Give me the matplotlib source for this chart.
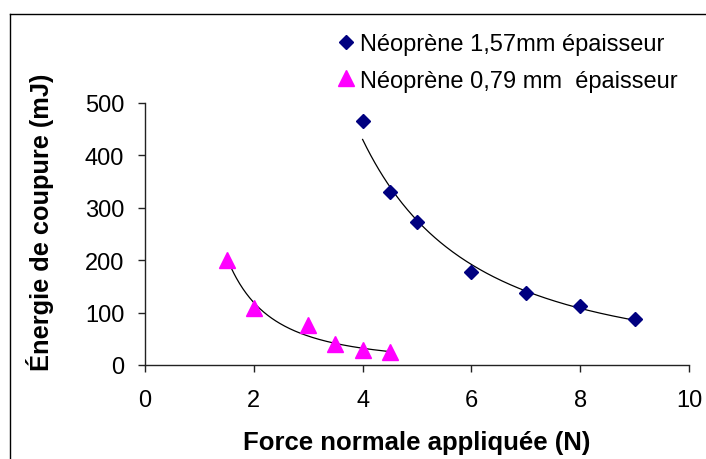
import numpy as np
import matplotlib
matplotlib.use("Agg")
import matplotlib.pyplot as plt
from matplotlib.lines import Line2D

plt.rcParams['font.family'] = ['Liberation Sans', 'DejaVu Sans']

# Data
x_157 = [4, 4.5, 5, 6, 7, 8, 9]
y_157 = [465, 330, 272, 178, 137, 113, 88]
x_079 = [1.5, 2, 3, 3.5, 4, 4.5]
y_079 = [200, 108, 76, 40, 29, 24]
label_157 = "Néoprène 1,57mm épaisseur"
label_079 = "Néoprène 0,79 mm  épaisseur"
xticks = [0, 2, 4, 6, 8, 10]
yticks = [0, 100, 200, 300, 400, 500]

W, H = 706, 460
fig = plt.figure(figsize=(W / 100, H / 100), dpi=100)
ax = fig.add_axes([145 / W, 1 - 366 / H, (689 - 145) / W, (366 - 104) / H])

navy = '#000080'
pink = '#FF00FF'

def power_fit(x, y):
    x = np.asarray(x, float); y = np.asarray(y, float)
    b, lna = np.polyfit(np.log(x), np.log(y), 1)
    xs = np.linspace(x.min(), x.max(), 200)
    return xs, np.exp(lna) * xs ** b

xs, ys = power_fit(x_157, y_157)
ax.plot(xs, ys, color='black', lw=0.9, zorder=2)
xs, ys = power_fit(x_079, y_079)
ax.plot(xs, ys, color='black', lw=0.9, zorder=2)

ax.plot(x_157, y_157, 'D', color=navy, ms=7, mec=navy, ls='none', zorder=3)
ax.plot(x_079, y_079, '^', color=pink, ms=11.5, mec=pink, ls='none', zorder=3)

ax.set_xlim(0, 10)
ax.set_ylim(0, 500)
ax.set_xticks(xticks)
ax.set_yticks(yticks)
ax.set_xticklabels([str(t) for t in xticks])
ax.set_yticklabels([str(t) for t in yticks])
for s in ['top', 'right']:
    ax.spines[s].set_visible(False)
for s in ['left', 'bottom']:
    ax.spines[s].set_linewidth(1.0)
    ax.spines[s].set_color('#222222')
ax.tick_params(direction='out', length=5, width=1.0, colors='#222222',
               labelsize=17, labelcolor='black', pad=12)
ax.tick_params(axis='y', pad=10)

ax.set_xlabel("Force normale appliquée (N)", fontsize=18.5, fontweight='bold', va='center')
ax.set_ylabel("Énergie de coupure (mJ)", fontsize=18.3, fontweight='bold', va='center')
ax.xaxis.set_label_coords(0.5, -(443 - 366) / (366 - 104))
ax.yaxis.set_label_coords((40 - 145) / (689 - 145), (366 - 222) / (366 - 104))

# Legend
h1 = Line2D([], [], marker='D', color=navy, ms=7, ls='none')
h2 = Line2D([], [], marker='^', color=pink, ms=11.5, ls='none')
fig.legend([h1, h2], [label_157, label_079], loc='upper left',
           bbox_to_anchor=(339 / W, 1 - 34 / H), frameon=False, fontsize=17,
           handlelength=0.6, handletextpad=0.3, labelspacing=0.62,
           borderaxespad=0, borderpad=0)

# Figure frame (top and left borders)
fig.add_artist(Line2D([10 / W, 1], [1 - 15 / H, 1 - 15 / H], color='black', lw=1.0,
                      transform=fig.transFigure))
fig.add_artist(Line2D([10 / W, 10 / W], [0, 1 - 15 / H], color='black', lw=1.0,
                      transform=fig.transFigure))

fig.savefig('out.png', dpi=100)
